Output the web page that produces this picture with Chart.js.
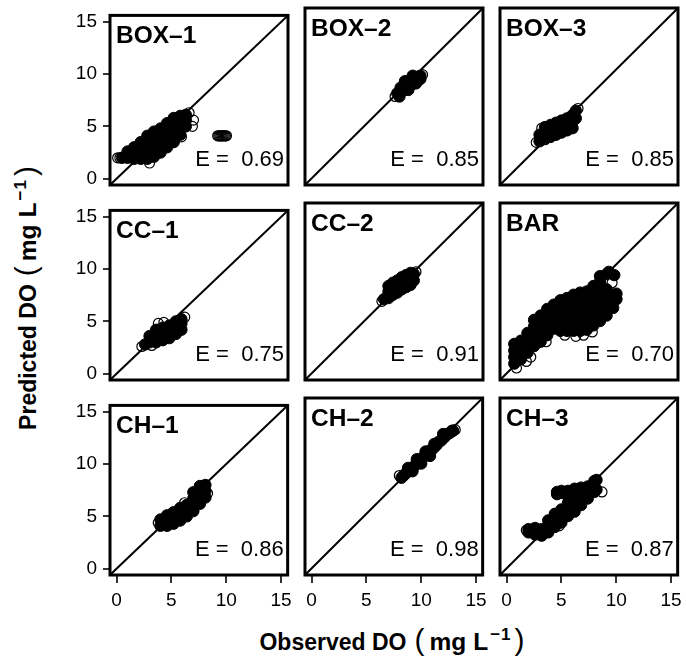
<!DOCTYPE html>
<html>
<head>
<meta charset="utf-8">
<title>Observed vs predicted DO</title>
<script src="https://cdn.jsdelivr.net/npm/chart.js@4.4.1/dist/chart.umd.min.js"></script>
<style>
  html, body { margin: 0; padding: 0; background: #fff; }
  #page { position: relative; width: 686px; height: 665px; overflow: hidden;
          font-family: "Liberation Sans", Arial, Helvetica, sans-serif; color: #000; }
  #page canvas { position: absolute; }
  .axis-title { position: absolute; white-space: nowrap; font-size: 23px; font-weight: bold; line-height: 30px; }
  .axis-title .paren { font-size: 30px; font-weight: normal; }
  .axis-title .open { margin-left: 8px; margin-right: 5px; }
  .axis-title .close { margin-left: 3px; }
  .axis-title .unit { font-size: 24.5px; }
  .axis-title .unit + .unit { margin-left: 7px; }
  .axis-title .sup { font-size: 17px; position: relative; top: -10px; margin-left: 2px; letter-spacing: 1px; }
  #xTitle { left: 392px; top: 625px; transform: translateX(-50%); }
  #yTitle { left: 27.5px; top: 298px; transform: translate(-50%, -50%) rotate(-90deg); }
</style>
</head>
<body>
<div id="page">
  <div id="xTitle" class="axis-title">Observed DO<span class="paren open">(</span><span class="unit">mg</span><span class="unit">L</span><span class="sup">&minus;1</span><span class="paren close">)</span></div>
  <div id="yTitle" class="axis-title">Predicted DO<span class="paren open">(</span><span class="unit">mg</span><span class="unit">L</span><span class="sup">&minus;1</span><span class="paren close">)</span></div>
</div>
<script>
// axis limits (0-15 padded 4%) and tick positions shared by every panel
const axisMin = -0.6;
const axisMax = 15.6;
const tickValues = [0, 5, 10, 15];

const panelNames = ['BOX\u20131', 'BOX\u20132', 'BOX\u20133', 'CC\u20131', 'CC\u20132', 'BAR', 'CH\u20131', 'CH\u20132', 'CH\u20133'];
const effValues = [0.69, 0.85, 0.85, 0.75, 0.91, 0.70, 0.86, 0.98, 0.87];

// [observed, predicted] pairs; "Dense" = solid core of the cloud, "Sparse" = loose points at its edge
const box1Dense = [[0.5,2.0],[1.0,2.0],[1.0,2.6],[1.6,1.9],[1.6,2.5],[1.6,3.0],[2.2,1.9],[2.2,2.5],[2.2,3.1],[2.2,3.5],
  [2.8,1.9],[2.8,2.5],[2.8,3.1],[2.8,3.7],[2.8,4.1],[3.4,2.1],[3.4,2.7],[3.4,3.3],[3.4,3.9],[3.4,4.5],
  [4.0,2.5],[4.0,3.1],[4.0,3.7],[4.0,4.3],[4.0,4.8],[4.6,3.0],[4.6,3.6],[4.6,4.2],[4.6,4.8],[4.6,5.3],
  [5.2,3.5],[5.2,4.1],[5.2,4.7],[5.2,5.3],[5.2,5.8],[5.8,4.2],[5.8,4.8],[5.8,5.4],[5.8,6.0],[6.3,5.0],[6.3,5.6],[6.3,6.1]];
const box1Sparse = [[0.1,2.0],[0.3,2.0],[5.9,4.0],[6.9,5.0],[7.0,5.6],[6.6,6.3],[3.0,1.5],
  [9.2,4.1],[9.3,4.1],[9.4,4.1],[9.5,4.1],[9.6,4.1],[9.7,4.1],[9.8,4.1],[9.9,4.1],[10.0,4.1]];

const box2Dense = [[7.8,7.8],[8.1,7.9],[8.1,8.3],[8.4,8.1],[8.4,8.5],[8.7,8.3],[8.7,8.7],[9.0,8.5],[9.0,8.9],
  [9.3,8.7],[9.3,9.1],[9.6,8.9],[9.6,9.3],[9.9,9.1],[9.9,9.4],[8.0,7.5],[8.5,8.9],[9.2,9.4],[8.8,8.1],[9.5,8.7]];
const box2Sparse = [[7.6,7.5],[10.1,9.5]];

const box3Dense = [[3.0,3.4],[3.0,4.0],[3.5,3.6],[3.5,4.2],[3.5,4.7],[4.0,3.8],[4.0,4.4],[4.0,4.9],[4.5,4.0],[4.5,4.6],[4.5,5.1],
  [5.0,4.2],[5.0,4.8],[5.0,5.3],[5.5,4.4],[5.5,5.0],[5.5,5.5],[6.0,4.6],[6.0,5.2],[6.0,5.8],[6.3,5.5],[6.3,6.2]];
const box3Sparse = [[2.7,3.3],[3.2,4.6],[6.5,6.4]];

const cc1Dense = [[2.6,2.8],[3.0,3.0],[3.0,3.6],[3.6,3.0],[3.6,3.6],[3.6,4.2],[4.2,3.2],[4.2,3.8],[4.2,4.4],
  [4.8,3.4],[4.8,4.0],[4.8,4.6],[5.4,3.8],[5.4,4.4],[5.4,5.0],[5.9,4.2],[5.9,4.8],[5.9,5.2]];
const cc1Sparse = [[2.3,2.6],[3.8,4.8],[4.3,4.9],[6.2,5.4],[3.2,2.7]];

const cc2Dense = [[6.6,6.8],[7.0,6.9],[7.0,7.5],[7.0,8.0],[7.4,7.2],[7.4,7.8],[7.4,8.3],[7.8,7.4],[7.8,8.0],[7.8,8.5],
  [8.2,7.7],[8.2,8.3],[8.2,8.8],[8.6,7.9],[8.6,8.5],[8.6,9.0],[9.0,8.1],[9.0,8.7],[9.0,9.2],[9.3,8.5],[9.3,9.1]];
const cc2Sparse = [[6.4,6.6],[9.5,9.3]];

const barDense = [[0.7,0.9],[0.7,1.5],[0.7,2.1],[0.7,2.7],[1.3,1.3],[1.3,1.9],[1.3,2.5],[1.3,3.0],
  [1.9,1.9],[1.9,2.5],[1.9,3.1],[1.9,3.7],[2.5,2.5],[2.5,3.1],[2.5,3.7],[2.5,4.3],[2.5,4.9],
  [3.1,2.9],[3.1,3.5],[3.1,4.1],[3.1,4.7],[3.1,5.3],[3.7,3.5],[3.7,4.1],[3.7,4.7],[3.7,5.3],[3.7,5.9],
  [4.3,4.1],[4.3,4.7],[4.3,5.3],[4.3,5.9],[4.3,6.3],[4.9,3.9],[4.9,4.5],[4.9,5.1],[4.9,5.7],[4.9,6.3],[4.9,6.7],
  [5.5,3.9],[5.5,4.5],[5.5,5.1],[5.5,5.7],[5.5,6.3],[5.5,6.9],[6.1,3.9],[6.1,4.5],[6.1,5.1],[6.1,5.7],[6.1,6.3],[6.1,6.9],[6.1,7.2],
  [6.7,3.9],[6.7,4.5],[6.7,5.1],[6.7,5.7],[6.7,6.3],[6.7,6.9],[6.7,7.4],[7.3,4.0],[7.3,4.6],[7.3,5.2],[7.3,5.8],[7.3,6.4],[7.3,7.0],[7.3,7.5],
  [7.9,4.4],[7.9,5.0],[7.9,5.6],[7.9,6.2],[7.9,6.8],[7.9,7.4],[7.9,8.0],
  [8.5,4.8],[8.5,5.4],[8.5,6.0],[8.5,6.6],[8.5,7.2],[8.5,7.8],[8.5,8.4],[8.5,8.9],
  [9.1,5.3],[9.1,5.9],[9.1,6.5],[9.1,7.1],[9.1,7.7],[9.1,9.1],[9.3,9.3],[9.7,6.0],[9.7,6.6],[9.7,7.2],[9.8,9.0],[10.0,6.8],[10.0,7.3]];
const barSparse = [[5.3,3.5],[6.3,3.4],[7.0,3.5],[7.8,3.8],[2.2,1.5],[1.8,1.1],[3.6,2.9],[0.9,0.5],[9.6,8.3]];

const ch1Dense = [[4.0,4.1],[4.0,4.7],[4.6,4.1],[4.6,4.7],[4.6,5.1],[5.2,4.3],[5.2,4.9],[5.2,5.4],[5.8,4.6],[5.8,5.2],[5.8,5.8],
  [6.4,5.0],[6.4,5.6],[6.4,6.1],[7.0,5.5],[7.0,6.1],[7.0,6.7],[7.0,7.3],[7.6,6.2],[7.6,6.8],[7.6,7.4],[7.6,7.9],[8.1,6.8],[8.1,7.4],[8.1,8.0]];
const ch1Sparse = [[3.8,4.4],[6.2,6.3],[8.3,7.2]];

const ch2Dense = [[8.2,8.3],[8.6,8.7],[9.0,9.1],[9.4,9.4],[9.8,9.8],[10.2,10.2],[10.6,10.5],[11.0,10.9],[11.4,11.3],[11.8,11.7],
  [12.2,12.1],[12.6,12.4],[12.9,12.6],[8.8,9.2],[9.6,10.0],[10.4,10.7],[11.2,11.4],[12.0,12.3],[9.2,8.9],[10.0,9.6],[10.8,10.3],
  [8.4,8.5],[8.9,8.9],[9.6,9.6],[10.4,10.4],[11.2,11.1],[12.0,11.9],[12.4,12.3],[12.8,12.6],[11.6,11.6],[10.8,10.8]];
const ch2Sparse = [[8.0,8.5],[13.1,12.7]];

const ch3Dense = [[2.0,3.3],[2.0,3.6],[2.6,3.1],[2.6,3.7],[3.2,3.0],[3.2,3.6],[3.8,3.3],[3.8,3.9],[3.8,4.4],
  [4.4,3.8],[4.4,4.4],[4.4,5.0],[5.0,4.2],[5.0,4.8],[5.0,5.4],[5.0,6.9],[5.0,7.1],[4.6,7.0],[4.6,6.8],
  [5.6,4.8],[5.6,5.4],[5.6,6.0],[5.6,6.6],[5.6,7.1],[6.2,5.2],[6.2,5.8],[6.2,6.4],[6.2,7.0],[6.2,7.3],
  [6.8,5.8],[6.8,6.4],[6.8,7.0],[6.8,7.4],[7.4,6.4],[7.4,7.0],[7.4,7.5],[8.0,7.0],[8.0,7.6],[8.0,8.0],[8.2,7.2],[8.2,8.1]];
const ch3Sparse = [[8.7,7.0],[4.8,3.9],[1.8,3.5]];

const densePoints = [box1Dense, box2Dense, box3Dense, cc1Dense, cc2Dense, barDense, ch1Dense, ch2Dense, ch3Dense];
const sparsePoints = [box1Sparse, box2Sparse, box3Sparse, cc1Sparse, cc2Sparse, barSparse, ch1Sparse, ch2Sparse, ch3Sparse];

const fontFamily = '"Liberation Sans", Arial, Helvetica, sans-serif';

// panel grid: plot area size and spacing in px
const areaW = 178, areaH = 177, step = 195;
const firstLeft = 110, firstTop = 8;
const padLeft = 60, padTop = 10, padRight = 10, padBottom = 50;

// frame, panel name and efficiency label
const panelFrame = {
  id: 'panelFrame',
  afterDatasetsDraw(chart, args, opts) {
    const { ctx, chartArea: a } = chart;
    ctx.save();
    ctx.strokeStyle = '#000';
    ctx.lineWidth = 3;
    ctx.strokeRect(a.left, a.top, a.right - a.left, a.bottom - a.top);
    ctx.fillStyle = '#000';
    ctx.textBaseline = 'alphabetic';
    ctx.textAlign = 'left';
    ctx.font = 'bold 24.5px ' + fontFamily;
    ctx.fillText(opts.name, a.left + 6, a.top + 28);
    ctx.textAlign = 'right';
    ctx.font = '22px ' + fontFamily;
    ctx.fillText('E =  ' + opts.eff.toFixed(2), a.right - 4, a.bottom - 19);
    ctx.restore();
  }
};

function toXY(pairs) {
  return pairs.map(p => ({ x: p[0], y: p[1] }));
}

function makePanel(i) {
  const row = Math.floor(i / 3);
  const col = i % 3;
  const canvas = document.createElement('canvas');
  canvas.width = padLeft + areaW + padRight;
  canvas.height = padTop + areaH + padBottom;
  canvas.style.left = (firstLeft + step * col - padLeft) + 'px';
  canvas.style.top = (firstTop + step * row - padTop) + 'px';
  document.getElementById('page').appendChild(canvas);

  const showX = row === 2;
  const showY = col === 0;

  new Chart(canvas.getContext('2d'), {
    type: 'scatter',
    data: {
      datasets: [
        {
          data: toXY(sparsePoints[i]),
          pointRadius: 5,
          pointBorderWidth: 1.2,
          pointBorderColor: '#000',
          pointBackgroundColor: 'rgba(0,0,0,0)'
        },
        {
          data: toXY(densePoints[i]),
          pointRadius: 5.7,
          pointBorderWidth: 1,
          pointBorderColor: '#000',
          pointBackgroundColor: '#000'
        },
        {
          // 1:1 line, drawn underneath the points
          type: 'line',
          data: [{ x: axisMin, y: axisMin }, { x: axisMax, y: axisMax }],
          borderColor: '#000',
          borderWidth: 2,
          pointRadius: 0,
          fill: false
        }
      ]
    },
    options: {
      responsive: false,
      animation: false,
      events: [],
      layout: { padding: { left: 0, top: padTop, right: padRight, bottom: 0 } },
      plugins: {
        legend: { display: false },
        tooltip: { enabled: false },
        panelFrame: { name: panelNames[i], eff: effValues[i] }
      },
      scales: {
        x: {
          type: 'linear',
          min: axisMin,
          max: axisMax,
          afterBuildTicks: s => { s.ticks = tickValues.map(v => ({ value: v })); },
          afterFit: s => { s.height = padBottom; },
          border: { display: false },
          grid: { display: showX, drawOnChartArea: false, tickLength: 8, lineWidth: 2, color: '#333', tickColor: '#333' },
          ticks: { display: showX, padding: 6, color: '#000', font: { size: 19, family: fontFamily } }
        },
        y: {
          type: 'linear',
          min: axisMin,
          max: axisMax,
          afterBuildTicks: s => { s.ticks = tickValues.map(v => ({ value: v })); },
          afterFit: s => { s.width = padLeft; },
          border: { display: false },
          grid: { display: showY, drawOnChartArea: false, tickLength: 7, lineWidth: 2, color: '#333', tickColor: '#333' },
          ticks: { display: showY, padding: 6, color: '#000', font: { size: 19, family: fontFamily } }
        }
      }
    },
    plugins: [panelFrame]
  });
}

for (let i = 0; i < 9; i++) {
  makePanel(i);
}
</script>
</body>
</html>
